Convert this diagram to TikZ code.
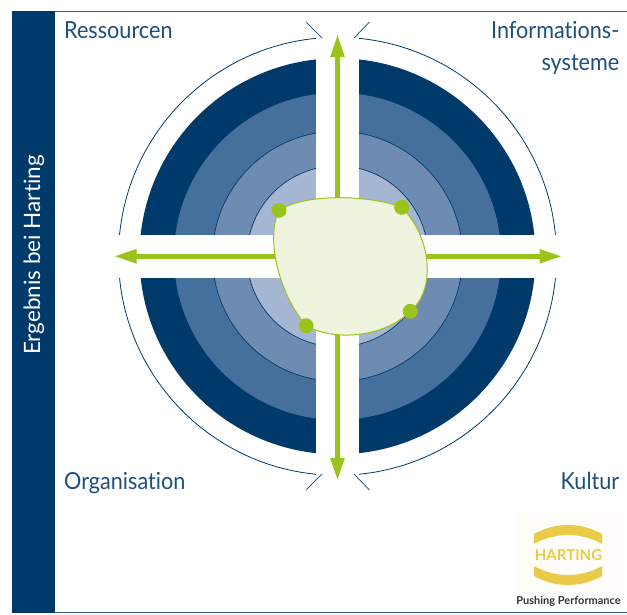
\documentclass[tikz,border=0pt]{standalone}
\usepackage{fontspec}
\setmainfont[Ligatures=NoCommon]{Lato}
\newfontfamily\cornerfont[FakeStretch=0.92,Ligatures=NoCommon]{Lato}
\usetikzlibrary{arrows.meta}
\definecolor{hartingblue}{HTML}{003A6B}
\definecolor{ringtwo}{HTML}{45709D}
\definecolor{ringthree}{HTML}{6E8BB2}
\definecolor{ringfour}{HTML}{A5B6D2}
\definecolor{framelin}{HTML}{35628C}
\definecolor{labeltext}{HTML}{1D4F7C}
\definecolor{axisgreen}{HTML}{9AC31C}
\definecolor{blobfill}{HTML}{EFF4DF}
\definecolor{logoyellow}{HTML}{E9CB48}
\tikzset{
	ring/.style={draw=hartingblue, line width=0.7pt},
	axis/.style={axisgreen, line width=5pt, -{Triangle[length=23pt,width=13pt]}, shorten >=0pt},
	tick/.style={draw=framelin, line width=0.9pt},
	corner/.style={text=labeltext, font=\cornerfont\fontsize{23.5}{28}\selectfont, inner sep=0pt},
	dot/.style={circle, fill=axisgreen, minimum size=15pt, inner sep=0pt},
}
\begin{document}
\begin{tikzpicture}[x=1pt, y=-1pt]
	\useasboundingbox (0,0) rectangle (627,614);

	\coordinate (C) at (337.5, 256.3);
	\coordinate (Atop) at (337.5, 34);
	\coordinate (Abot) at (337.5, 481);
	\coordinate (Alft) at (113.5, 256.3);
	\coordinate (Argt) at (562.5, 256.3);

	\coordinate (T1a) at (322, 38);
	\coordinate (T1b) at (306, 22);
	\coordinate (T2a) at (354, 38);
	\coordinate (T2b) at (369.5, 22);
	\coordinate (T3a) at (322, 474);
	\coordinate (T3b) at (306, 490);
	\coordinate (T4a) at (354, 474);
	\coordinate (T4b) at (369.5, 490);

	\draw[framelin, line width=1pt] (12, 11.5) -- (627, 11.5);
	\draw[framelin, line width=1pt] (12, 612.8) -- (627, 612.8);
	\fill[hartingblue] (12, 11) rectangle (55, 613);
	\node[rotate=90, text=white, font=\fontsize{22.5}{27}\selectfont, inner sep=0pt] (ergebnis) at (34, 255) {Ergebnis bei Harting};

	\draw[ring, line width=0.8pt] (C) circle (219);
	\fill[hartingblue] (C) circle (198);
	\fill[ringtwo] (C) circle (163.5);
	\filldraw[ring, fill=ringthree] (C) circle (125);
	\filldraw[ring, fill=ringfour] (C) circle (90.5);
	\fill[white] (316, 25) rectangle (359, 488);
	\fill[white] (105, 235) rectangle (570, 278);

	\draw[tick] (T1a) -- (T1b);
	\draw[tick] (T2a) -- (T2b);
	\draw[tick] (T3a) -- (T3b);
	\draw[tick] (T4a) -- (T4b);

	\draw[axis] (C) -- (Atop);
	\draw[axis] (C) -- (Abot);
	\draw[axis] (C) -- (Alft);
	\draw[axis] (C) -- (Argt);

	\coordinate (B1) at (279, 210.3);
	\coordinate (B2) at (401.7, 207.3);
	\coordinate (B3) at (410.3, 311.3);
	\coordinate (B4) at (306, 325.7);
	\filldraw[draw=axisgreen, fill=blobfill, line width=1pt] (B1) .. controls (305, 193) and (370, 195) .. (B2) .. controls (432, 238) and (436, 290) .. (B3) .. controls (385, 337) and (335, 342) .. (B4) .. controls (280, 295) and (265, 240) .. (B1) -- cycle;
	\node[dot] (D1) at (B1) {};
	\node[dot] (D2) at (B2) {};
	\node[dot] (D3) at (B3) {};
	\node[dot] (D4) at (B4) {};

	\node[corner, anchor=base west] (ressourcen) at (64, 38) {Ressourcen};
	\node[corner, anchor=base east] (informations) at (619.5, 38) {Informations-};
	\node[corner, anchor=base east] (systeme) at (619.5, 70) {systeme};
	\node[corner, anchor=base west] (organisation) at (64, 489) {Organisation};
	\node[corner, anchor=base east] (kultur) at (619.5, 489) {Kultur};

	\fill[logoyellow!3] (517, 512) rectangle (621, 594);
	\fill[logoyellow] (534, 534) .. controls (555, 522) and (581, 522) .. (602, 534) -- (602, 544) .. controls (581, 532) and (555, 532) .. (534, 544) -- cycle;
	\fill[logoyellow] (534, 566) .. controls (555, 578) and (581, 578) .. (602, 566) -- (602, 576) .. controls (581, 588) and (555, 588) .. (534, 576) -- cycle;
	\node[text=logoyellow, font=\fontsize{15}{17}\selectfont\bfseries, inner sep=0pt] (hartinglogo) at (568.5, 555) {HARTING};
	\node[text=black!80, font=\fontsize{11}{13}\selectfont\bfseries, inner sep=0pt] (pushing) at (568.5, 601.5) {Pushing Performance};
\end{tikzpicture}
\end{document}
